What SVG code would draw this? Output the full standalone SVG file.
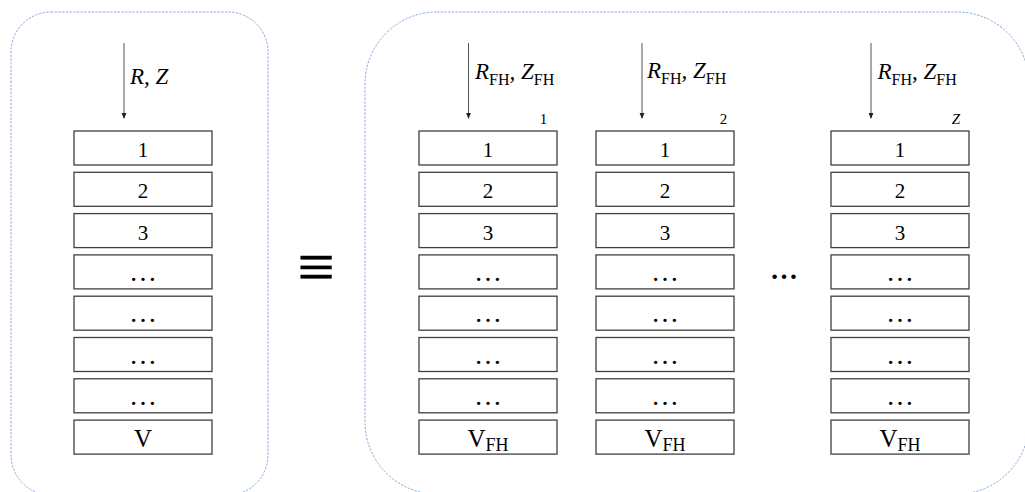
<svg xmlns="http://www.w3.org/2000/svg" width="1025" height="492" viewBox="0 0 1025 492">
  <style>
    .frame { fill: none; stroke: #8eaad8; stroke-width: 1; stroke-dasharray: 2.4 1.3; }
    .cell { fill: #ffffff; stroke: #404040; stroke-width: 1.3; }
    .num { font-family: "Liberation Serif", "Times New Roman", serif; font-size: 21px; fill: #000; text-anchor: middle; }
    .dots { font-family: "Liberation Serif", "Times New Roman", serif; font-size: 28px; fill: #000; text-anchor: middle; }
    .vbig { font-family: "Liberation Serif", "Times New Roman", serif; font-size: 25px; fill: #000; text-anchor: middle; }
    .vsub { font-size: 18px; }
    .lab { font-family: "Liberation Serif", "Times New Roman", serif; font-size: 23px; font-style: italic; fill: #000; }
    .sub { font-size: 16px; font-style: normal; }
    .idx { font-family: "Liberation Serif", "Times New Roman", serif; font-size: 15px; fill: #000; text-anchor: middle; }
    .flow { stroke: #555; stroke-width: 1; fill: none; marker-end: url(#tip); }
    .equiv { font-family: "Liberation Serif", "Times New Roman", serif; font-size: 66px; fill: #000; stroke: #000; stroke-width: 0.4; text-anchor: middle; }
  </style>
  <defs>
    <marker id="tip" viewBox="0 0 6 6" refX="5" refY="3" markerWidth="6" markerHeight="6" markerUnits="userSpaceOnUse" orient="auto">
      <path d="M0,0.6 L6,3 L0,5.4 Z" fill="#222"/>
    </marker>
    <!-- one register stack: 8 cells, 34 tall, 41.3 pitch -->
    <g id="cells">
      <rect class="cell" x="0" y="0" width="138" height="34"/>
      <rect class="cell" x="0" y="41.3" width="138" height="34"/>
      <rect class="cell" x="0" y="82.6" width="138" height="34"/>
      <rect class="cell" x="0" y="123.9" width="138" height="34"/>
      <rect class="cell" x="0" y="165.2" width="138" height="34"/>
      <rect class="cell" x="0" y="206.5" width="138" height="34"/>
      <rect class="cell" x="0" y="247.8" width="138" height="34"/>
      <rect class="cell" x="0" y="289.1" width="138" height="34"/>
      <text class="num" x="69" y="26">1</text>
      <text class="num" x="69" y="67.3">2</text>
      <text class="num" x="69" y="108.6">3</text>
      <text class="dots" x="69" y="150">…</text>
      <text class="dots" x="69" y="191.3">…</text>
      <text class="dots" x="69" y="232.6">…</text>
      <text class="dots" x="69" y="273.9">…</text>
    </g>
  </defs>

  <!-- outer dashed frames -->
  <g id="frames">
    <rect class="frame" x="11" y="12" width="257" height="483" rx="40" ry="40"/>
    <rect class="frame" x="365" y="12" width="664" height="482" rx="72" ry="72"/>
  </g>

  <!-- input arrows -->
  <g id="connectors">
    <line class="flow" x1="124" y1="43" x2="124" y2="118"/>
    <line class="flow" x1="468.5" y1="43" x2="468.5" y2="118"/>
    <line class="flow" x1="642" y1="43" x2="642" y2="118"/>
    <line class="flow" x1="871" y1="43" x2="871" y2="118"/>
  </g>

  <!-- single stack -->
  <g id="stack-single">
    <text class="lab" x="130" y="84">R, Z</text>
    <use href="#cells" x="74" y="131"/>
    <text class="vbig" x="143" y="446.5">V</text>
  </g>

  <!-- equivalence sign -->
  <g id="equiv">
    <text class="equiv" x="316" y="289">≡</text>
  </g>

  <!-- split stacks -->
  <g id="stack-1">
    <text class="lab" x="475" y="78.5">R<tspan class="sub" dy="6">FH</tspan><tspan dy="-6">, Z</tspan><tspan class="sub" dy="6">FH</tspan></text>
    <text class="idx" x="543.5" y="124">1</text>
    <use href="#cells" x="419" y="131"/>
    <text class="vbig" x="488" y="447">V<tspan class="vsub" dy="4">FH</tspan></text>
  </g>

  <g id="stack-2">
    <text class="lab" x="647" y="78">R<tspan class="sub" dy="6">FH</tspan><tspan dy="-6">, Z</tspan><tspan class="sub" dy="6">FH</tspan></text>
    <text class="idx" x="723.5" y="124">2</text>
    <use href="#cells" x="596" y="131"/>
    <text class="vbig" x="665" y="447">V<tspan class="vsub" dy="4">FH</tspan></text>
  </g>

  <g id="gap-dots">
    <text class="dots" x="784" y="279" style="font-weight:bold;font-size:28px">…</text>
  </g>

  <g id="stack-z">
    <text class="lab" x="877.5" y="78.5">R<tspan class="sub" dy="6">FH</tspan><tspan dy="-6">, Z</tspan><tspan class="sub" dy="6">FH</tspan></text>
    <text class="idx" x="956" y="124" style="font-style:italic">Z</text>
    <use href="#cells" x="831" y="131"/>
    <text class="vbig" x="900" y="447">V<tspan class="vsub" dy="4">FH</tspan></text>
  </g>
</svg>
